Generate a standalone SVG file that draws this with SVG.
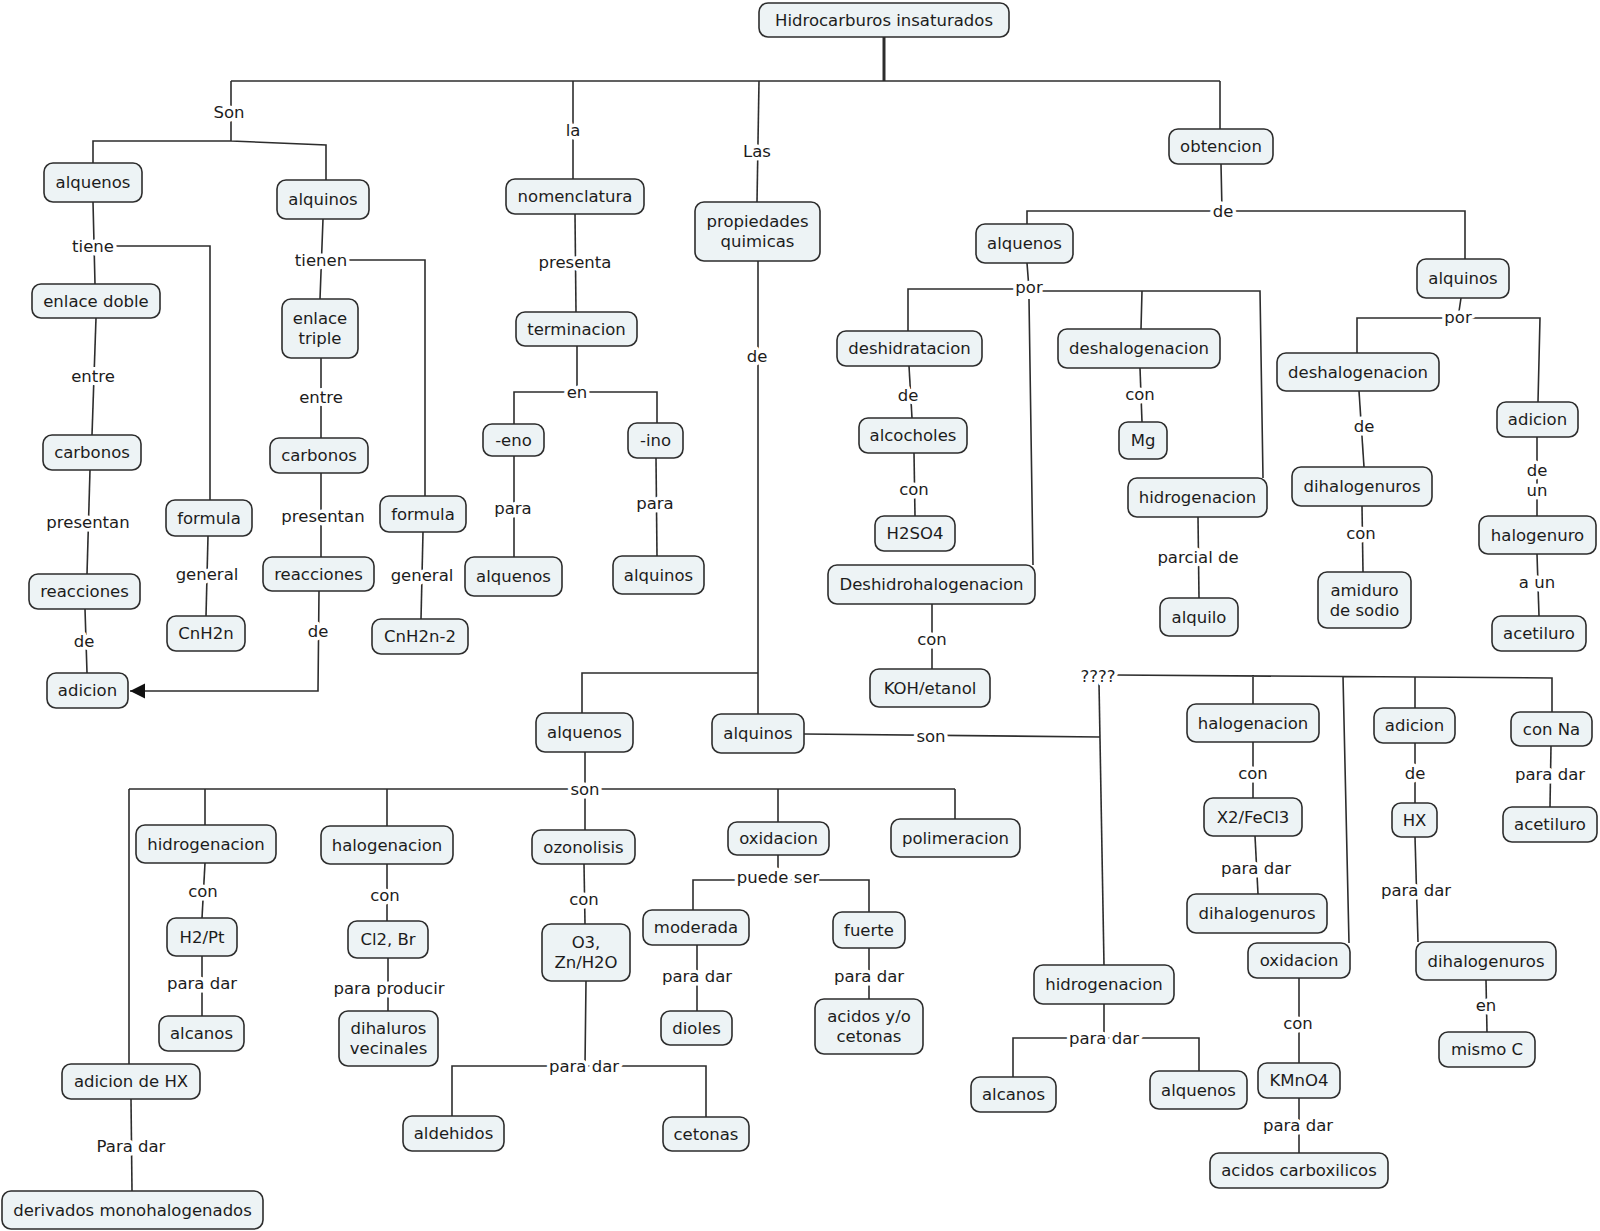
<svg xmlns="http://www.w3.org/2000/svg" width="1600" height="1231" viewBox="0 0 1600 1231">
<defs>
<style>
.n rect{fill:#edf3f5;stroke:#2d2d2d;stroke-width:1.6}
text{font-family:"DejaVu Sans",Verdana,sans-serif;font-size:16.5px;fill:#1c1c1c;text-anchor:middle;dominant-baseline:central}
#labels text{stroke:#fff;stroke-width:7px;stroke-linejoin:round;paint-order:stroke}
#connectors path{fill:none;stroke:#2d2d2d;stroke-width:1.6}
</style>
<marker id="arr" markerUnits="userSpaceOnUse" markerWidth="16" markerHeight="16" refX="15" refY="8" orient="auto"><path d="M0,0.5 L15,8 L0,15.5 z" fill="#111"/></marker>
</defs>
<rect width="1600" height="1231" fill="#fff"/>
<g id="connectors">
<path d="M884,37 V81" style="stroke-width:3"/>
<path d="M231,81 H1220"/>
<path d="M231,81 V141 M93,163 V141 H231 L326,145 V180"/>
<path d="M573,81 V179"/>
<path d="M759,81 L757,202"/>
<path d="M1220,81 V129"/>
<path d="M93,202 L95,284 M116,246 H210 V500"/>
<path d="M96,318 L92,435"/>
<path d="M90,470 L87,574"/>
<path d="M85,609 L87,673"/>
<path d="M208,536 L206,616"/>
<path d="M323,219 L320,299 M347,260 H425 V496"/>
<path d="M321,358 V438"/>
<path d="M321,473 V557"/>
<path d="M319,591 L318,691 H130" marker-end="url(#arr)"/>
<path d="M423,532 L421,619"/>
<path d="M575,214 L576,312"/>
<path d="M577,346 V392 M514,424 V392 H657 V423"/>
<path d="M514,456 V557"/>
<path d="M656,458 L657,556"/>
<path d="M758,261 V714 M758,673 H582 V713"/>
<path d="M585,752 V789 M129,789 H955 M129,789 V1064 M205,789 V825 M387,789 V826 M585,789 V830 M778,789 V822 M955,789 V819"/>
<path d="M205,863 L202,918"/>
<path d="M202,956 V1016"/>
<path d="M387,864 V921"/>
<path d="M388,958 V1011"/>
<path d="M131,1099 L132,1191"/>
<path d="M584,864 L585,924"/>
<path d="M586,981 L585,1066 M452,1116 V1066 H706 V1117"/>
<path d="M778,855 V879 M693,910 V880 H869 V912"/>
<path d="M697,945 V1011"/>
<path d="M869,948 V999"/>
<path d="M804,734 L1100,737"/>
<path d="M1099,683 L1104,965"/>
<path d="M1115,675 L1552,678 V712 M1253,675 V704 M1343,676 L1349,943 M1415,677 V708"/>
<path d="M1253,742 V798"/>
<path d="M1255,836 L1258,894"/>
<path d="M1415,743 V803"/>
<path d="M1415,837 L1418,942"/>
<path d="M1486,980 L1487,1032"/>
<path d="M1551,746 L1550,807"/>
<path d="M1299,978 V1063"/>
<path d="M1299,1098 V1153"/>
<path d="M1104,1004 V1038 M1013,1077 V1038 H1199 V1071"/>
<path d="M1221,164 L1222,211 M1027,224 V211 H1465 V259"/>
<path d="M1027,263 L1029,289 M908,331 V289 H1029 M1029,291 H1260 L1263,478 M1142,291 L1141,329 M1029,299 L1033,565"/>
<path d="M909,366 L912,418"/>
<path d="M914,453 L915,516"/>
<path d="M932,604 V669"/>
<path d="M1140,368 L1142,422"/>
<path d="M1198,517 L1199,598"/>
<path d="M1461,298 L1458,318 M1357,353 V318 H1540 L1538,402"/>
<path d="M1359,391 L1364,467"/>
<path d="M1362,506 L1363,572"/>
<path d="M1537,437 V516"/>
<path d="M1537,554 L1539,616"/>
</g>
<g id="labels">
<text x="229" y="112">Son</text>
<text x="573" y="130">la</text>
<text x="757" y="151">Las</text>
<text x="93" y="246">tiene</text>
<text x="93" y="376">entre</text>
<text x="88" y="522">presentan</text>
<text x="84" y="641">de</text>
<text x="207" y="574">general</text>
<text x="321" y="260">tienen</text>
<text x="321" y="397">entre</text>
<text x="323" y="516">presentan</text>
<text x="318" y="631">de</text>
<text x="422" y="575">general</text>
<text x="575" y="262">presenta</text>
<text x="577" y="392">en</text>
<text x="513" y="508">para</text>
<text x="655" y="503">para</text>
<text x="757" y="356">de</text>
<text x="585" y="789">son</text>
<text x="203" y="891">con</text>
<text x="202" y="983">para dar</text>
<text x="385" y="895">con</text>
<text x="389" y="988">para producir</text>
<text x="131" y="1146">Para dar</text>
<text x="584" y="899">con</text>
<text x="584" y="1066">para dar</text>
<text x="778" y="877">puede ser</text>
<text x="697" y="976">para dar</text>
<text x="869" y="976">para dar</text>
<text x="931" y="736">son</text>
<text x="1098" y="676">????</text>
<text x="1253" y="773">con</text>
<text x="1256" y="868">para dar</text>
<text x="1415" y="773">de</text>
<text x="1416" y="890">para dar</text>
<text x="1486" y="1005">en</text>
<text x="1550" y="774">para dar</text>
<text x="1298" y="1023">con</text>
<text x="1298" y="1125">para dar</text>
<text x="1104" y="1038">para dar</text>
<text x="1223" y="211">de</text>
<text x="1029" y="287">por</text>
<text x="908" y="395">de</text>
<text x="914" y="489">con</text>
<text x="932" y="639">con</text>
<text x="1140" y="394">con</text>
<text x="1198" y="557">parcial de</text>
<text x="1458" y="317">por</text>
<text x="1364" y="426">de</text>
<text x="1361" y="533">con</text>
<text x="1537" y="470">de</text>
<text x="1537" y="490">un</text>
<text x="1537" y="582">a un</text>
</g>
<g id="n_hid" class="n"><rect x="759" y="3" width="250" height="34" rx="9"/><text x="884" y="20">Hidrocarburos insaturados</text></g>
<g id="n_alquenos1" class="n"><rect x="44" y="163" width="98" height="39" rx="9"/><text x="93" y="182.5">alquenos</text></g>
<g id="n_alquinos1" class="n"><rect x="277" y="180" width="92" height="39" rx="9"/><text x="323" y="199.5">alquinos</text></g>
<g id="n_enlace_doble" class="n"><rect x="32" y="284" width="128" height="34" rx="9"/><text x="96" y="301">enlace doble</text></g>
<g id="n_enlace_triple" class="n"><rect x="282" y="299" width="76" height="59" rx="9"/><text x="320" y="318.5">enlace</text><text x="320" y="338.5">triple</text></g>
<g id="n_carbonos1" class="n"><rect x="43" y="435" width="98" height="35" rx="9"/><text x="92" y="452.5">carbonos</text></g>
<g id="n_carbonos2" class="n"><rect x="270" y="438" width="98" height="35" rx="9"/><text x="319" y="455.5">carbonos</text></g>
<g id="n_formula1" class="n"><rect x="166" y="500" width="86" height="36" rx="9"/><text x="209" y="518">formula</text></g>
<g id="n_formula2" class="n"><rect x="380" y="496" width="86" height="36" rx="9"/><text x="423" y="514">formula</text></g>
<g id="n_reacciones1" class="n"><rect x="29" y="574" width="111" height="35" rx="9"/><text x="84.5" y="591.5">reacciones</text></g>
<g id="n_reacciones2" class="n"><rect x="263" y="557" width="111" height="34" rx="9"/><text x="318.5" y="574">reacciones</text></g>
<g id="n_cnh2n" class="n"><rect x="167" y="616" width="78" height="35" rx="9"/><text x="206" y="633.5">CnH2n</text></g>
<g id="n_cnh2n2" class="n"><rect x="372" y="619" width="96" height="35" rx="9"/><text x="420" y="636.5">CnH2n-2</text></g>
<g id="n_adicion1" class="n"><rect x="47" y="673" width="81" height="35" rx="9"/><text x="87.5" y="690.5">adicion</text></g>
<g id="n_nomenclatura" class="n"><rect x="506" y="179" width="138" height="35" rx="9"/><text x="575" y="196.5">nomenclatura</text></g>
<g id="n_terminacion" class="n"><rect x="516" y="312" width="121" height="34" rx="9"/><text x="576.5" y="329">terminacion</text></g>
<g id="n_eno" class="n"><rect x="483" y="424" width="61" height="32" rx="9"/><text x="513.5" y="440">-eno</text></g>
<g id="n_ino" class="n"><rect x="628" y="423" width="55" height="35" rx="9"/><text x="655.5" y="440.5">-ino</text></g>
<g id="n_alquenos2" class="n"><rect x="465" y="557" width="97" height="39" rx="9"/><text x="513.5" y="576.5">alquenos</text></g>
<g id="n_alquinos2" class="n"><rect x="613" y="556" width="91" height="38" rx="9"/><text x="658.5" y="575">alquinos</text></g>
<g id="n_propiedades" class="n"><rect x="695" y="202" width="125" height="59" rx="9"/><text x="757.5" y="221.5">propiedades</text><text x="757.5" y="241.5">quimicas</text></g>
<g id="n_alquenos3" class="n"><rect x="536" y="713" width="97" height="39" rx="9"/><text x="584.5" y="732.5">alquenos</text></g>
<g id="n_alquinos3" class="n"><rect x="712" y="714" width="92" height="39" rx="9"/><text x="758" y="733.5">alquinos</text></g>
<g id="n_obtencion" class="n"><rect x="1169" y="129" width="104" height="35" rx="9"/><text x="1221" y="146.5">obtencion</text></g>
<g id="n_alquenos4" class="n"><rect x="976" y="224" width="97" height="39" rx="9"/><text x="1024.5" y="243.5">alquenos</text></g>
<g id="n_alquinos4" class="n"><rect x="1417" y="259" width="92" height="39" rx="9"/><text x="1463" y="278.5">alquinos</text></g>
<g id="n_deshidratacion" class="n"><rect x="837" y="331" width="145" height="35" rx="9"/><text x="909.5" y="348.5">deshidratacion</text></g>
<g id="n_deshalog1" class="n"><rect x="1058" y="329" width="162" height="39" rx="9"/><text x="1139" y="348.5">deshalogenacion</text></g>
<g id="n_deshalog2" class="n"><rect x="1277" y="353" width="162" height="38" rx="9"/><text x="1358" y="372">deshalogenacion</text></g>
<g id="n_alcocholes" class="n"><rect x="859" y="418" width="108" height="35" rx="9"/><text x="913" y="435.5">alcocholes</text></g>
<g id="n_h2so4" class="n"><rect x="875" y="516" width="80" height="35" rx="9"/><text x="915" y="533.5">H2SO4</text></g>
<g id="n_deshidrohal" class="n"><rect x="828" y="565" width="207" height="39" rx="9"/><text x="931.5" y="584.5">Deshidrohalogenacion</text></g>
<g id="n_koh" class="n"><rect x="870" y="669" width="120" height="38" rx="9"/><text x="930" y="688">KOH/etanol</text></g>
<g id="n_mg" class="n"><rect x="1119" y="422" width="48" height="37" rx="9"/><text x="1143" y="440.5">Mg</text></g>
<g id="n_hidrog1" class="n"><rect x="1128" y="478" width="139" height="39" rx="9"/><text x="1197.5" y="497.5">hidrogenacion</text></g>
<g id="n_alquilo" class="n"><rect x="1160" y="598" width="78" height="38" rx="9"/><text x="1199" y="617">alquilo</text></g>
<g id="n_dihalog1" class="n"><rect x="1292" y="467" width="140" height="39" rx="9"/><text x="1362" y="486.5">dihalogenuros</text></g>
<g id="n_amiduro" class="n"><rect x="1318" y="572" width="93" height="56" rx="9"/><text x="1364.5" y="590">amiduro</text><text x="1364.5" y="610">de sodio</text></g>
<g id="n_adicion2" class="n"><rect x="1497" y="402" width="81" height="35" rx="9"/><text x="1537.5" y="419.5">adicion</text></g>
<g id="n_halogenuro" class="n"><rect x="1479" y="516" width="117" height="38" rx="9"/><text x="1537.5" y="535">halogenuro</text></g>
<g id="n_acetiluro1" class="n"><rect x="1492" y="616" width="94" height="35" rx="9"/><text x="1539" y="633.5">acetiluro</text></g>
<g id="n_halogenacion2" class="n"><rect x="1187" y="704" width="132" height="38" rx="9"/><text x="1253" y="723">halogenacion</text></g>
<g id="n_adicion3" class="n"><rect x="1374" y="708" width="81" height="35" rx="9"/><text x="1414.5" y="725.5">adicion</text></g>
<g id="n_conna" class="n"><rect x="1511" y="712" width="81" height="34" rx="9"/><text x="1551.5" y="729">con Na</text></g>
<g id="n_x2" class="n"><rect x="1204" y="798" width="98" height="38" rx="9"/><text x="1253" y="817">X2/FeCl3</text></g>
<g id="n_hx" class="n"><rect x="1392" y="803" width="45" height="34" rx="9"/><text x="1414.5" y="820">HX</text></g>
<g id="n_acetiluro2" class="n"><rect x="1503" y="807" width="94" height="35" rx="9"/><text x="1550" y="824.5">acetiluro</text></g>
<g id="n_dihalog2" class="n"><rect x="1187" y="894" width="140" height="39" rx="9"/><text x="1257" y="913.5">dihalogenuros</text></g>
<g id="n_oxidacion2" class="n"><rect x="1248" y="943" width="102" height="35" rx="9"/><text x="1299" y="960.5">oxidacion</text></g>
<g id="n_kmno4" class="n"><rect x="1258" y="1063" width="82" height="35" rx="9"/><text x="1299" y="1080.5">KMnO4</text></g>
<g id="n_acidoscarb" class="n"><rect x="1210" y="1153" width="178" height="35" rx="9"/><text x="1299" y="1170.5">acidos carboxilicos</text></g>
<g id="n_dihalog3" class="n"><rect x="1416" y="942" width="140" height="38" rx="9"/><text x="1486" y="961">dihalogenuros</text></g>
<g id="n_mismoc" class="n"><rect x="1439" y="1032" width="96" height="35" rx="9"/><text x="1487" y="1049.5">mismo C</text></g>
<g id="n_hidrog3" class="n"><rect x="1034" y="965" width="140" height="39" rx="9"/><text x="1104" y="984.5">hidrogenacion</text></g>
<g id="n_alcanos2" class="n"><rect x="971" y="1077" width="85" height="35" rx="9"/><text x="1013.5" y="1094.5">alcanos</text></g>
<g id="n_alquenos5" class="n"><rect x="1150" y="1071" width="97" height="38" rx="9"/><text x="1198.5" y="1090">alquenos</text></g>
<g id="n_hidrog2" class="n"><rect x="136" y="825" width="140" height="38" rx="9"/><text x="206" y="844">hidrogenacion</text></g>
<g id="n_h2pt" class="n"><rect x="167" y="918" width="70" height="38" rx="9"/><text x="202" y="937">H2/Pt</text></g>
<g id="n_alcanos1" class="n"><rect x="159" y="1016" width="85" height="35" rx="9"/><text x="201.5" y="1033.5">alcanos</text></g>
<g id="n_adicionhx" class="n"><rect x="62" y="1064" width="138" height="35" rx="9"/><text x="131" y="1081.5">adicion de HX</text></g>
<g id="n_derivados" class="n"><rect x="2" y="1191" width="261" height="38" rx="9"/><text x="132.5" y="1210">derivados monohalogenados</text></g>
<g id="n_halogenacion1" class="n"><rect x="321" y="826" width="132" height="38" rx="9"/><text x="387" y="845">halogenacion</text></g>
<g id="n_cl2" class="n"><rect x="348" y="921" width="80" height="37" rx="9"/><text x="388" y="939.5">Cl2, Br</text></g>
<g id="n_dihaluros" class="n"><rect x="339" y="1011" width="99" height="55" rx="9"/><text x="388.5" y="1028.5">dihaluros</text><text x="388.5" y="1048.5">vecinales</text></g>
<g id="n_ozonolisis" class="n"><rect x="532" y="830" width="103" height="34" rx="9"/><text x="583.5" y="847">ozonolisis</text></g>
<g id="n_o3" class="n"><rect x="542" y="924" width="88" height="57" rx="9"/><text x="586" y="942.5">O3,</text><text x="586" y="962.5">Zn/H2O</text></g>
<g id="n_aldehidos" class="n"><rect x="403" y="1116" width="101" height="35" rx="9"/><text x="453.5" y="1133.5">aldehidos</text></g>
<g id="n_cetonas" class="n"><rect x="663" y="1117" width="86" height="34" rx="9"/><text x="706" y="1134">cetonas</text></g>
<g id="n_oxidacion1" class="n"><rect x="728" y="822" width="101" height="33" rx="9"/><text x="778.5" y="838.5">oxidacion</text></g>
<g id="n_moderada" class="n"><rect x="643" y="910" width="106" height="35" rx="9"/><text x="696" y="927.5">moderada</text></g>
<g id="n_fuerte" class="n"><rect x="833" y="912" width="72" height="36" rx="9"/><text x="869" y="930">fuerte</text></g>
<g id="n_dioles" class="n"><rect x="661" y="1011" width="71" height="34" rx="9"/><text x="696.5" y="1028">dioles</text></g>
<g id="n_acidosyo" class="n"><rect x="815" y="999" width="108" height="55" rx="9"/><text x="869" y="1016.5">acidos y/o</text><text x="869" y="1036.5">cetonas</text></g>
<g id="n_polimeracion" class="n"><rect x="891" y="819" width="129" height="38" rx="9"/><text x="955.5" y="838">polimeracion</text></g>
</svg>
